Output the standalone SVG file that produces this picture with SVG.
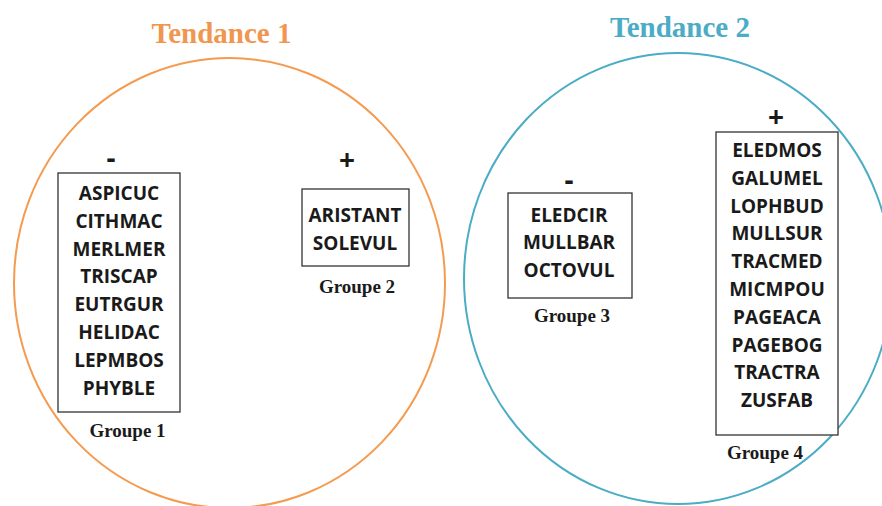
<svg xmlns="http://www.w3.org/2000/svg" width="882" height="506" viewBox="0 0 882 506">
<style>
.title{font-family:"Liberation Serif","Times New Roman",serif;font-weight:bold;font-size:29px;text-anchor:middle}
.grp{font-family:"Liberation Serif","Times New Roman",serif;font-weight:bold;font-size:19px;text-anchor:middle;fill:#1a1a1a}
.item{font-family:"Open Sans","Liberation Sans",sans-serif;font-weight:bold;font-size:19px;text-anchor:middle;fill:#1a1a1a}
.sign{font-family:"Open Sans","Liberation Sans",sans-serif;font-weight:bold;font-size:28px;text-anchor:middle;fill:#1a1a1a}
.box{fill:#fff;stroke:#333;stroke-width:1.3}
</style>
<rect x="0" y="0" width="882" height="506" fill="#fff"/>
<g id="tendance1">
<ellipse cx="229.5" cy="283" rx="215.5" ry="225" fill="none" stroke="#F49B50" stroke-width="2"/>
<text class="title" x="221.5" y="43" fill="#F0964F">Tendance 1</text>
</g>
<g id="tendance2">
<ellipse cx="678" cy="278.5" rx="214" ry="225.5" fill="none" stroke="#4BACC6" stroke-width="2"/>
<text class="title" x="680" y="37" fill="#4BACC6">Tendance 2</text>
</g>
<g id="groupe1">
<text class="sign" x="111" y="168">-</text>
<rect class="box" x="58" y="173" width="122" height="239"/>
<text class="item" x="119" y="200">ASPICUC</text>
<text class="item" x="119" y="228">CITHMAC</text>
<text class="item" x="119" y="256">MERLMER</text>
<text class="item" x="119" y="283">TRISCAP</text>
<text class="item" x="119" y="311">EUTRGUR</text>
<text class="item" x="119" y="339">HELIDAC</text>
<text class="item" x="119" y="367">LEPMBOS</text>
<text class="item" x="119" y="395">PHYBLE</text>
<text class="grp" x="127.5" y="437">Groupe 1</text>
</g>
<g id="groupe2">
<text class="sign" x="347" y="169.5">+</text>
<rect class="box" x="302" y="189" width="107" height="77"/>
<text class="item" x="355" y="222">ARISTANT</text>
<text class="item" x="355" y="250">SOLEVUL</text>
<text class="grp" x="357" y="293">Groupe 2</text>
</g>
<g id="groupe3">
<text class="sign" x="569" y="190">-</text>
<rect class="box" x="508" y="193" width="124" height="105"/>
<text class="item" x="569" y="222">ELEDCIR</text>
<text class="item" x="569" y="249">MULLBAR</text>
<text class="item" x="569" y="277">OCTOVUL</text>
<text class="grp" x="572" y="322">Groupe 3</text>
</g>
<g id="groupe4">
<text class="sign" x="776" y="127">+</text>
<rect class="box" x="716" y="132" width="122" height="303"/>
<text class="item" x="777" y="157">ELEDMOS</text>
<text class="item" x="777" y="185">GALUMEL</text>
<text class="item" x="777" y="213">LOPHBUD</text>
<text class="item" x="777" y="240">MULLSUR</text>
<text class="item" x="777" y="268">TRACMED</text>
<text class="item" x="777" y="296">MICMPOU</text>
<text class="item" x="777" y="324">PAGEACA</text>
<text class="item" x="777" y="352">PAGEBOG</text>
<text class="item" x="777" y="379">TRACTRA</text>
<text class="item" x="777" y="407">ZUSFAB</text>
<text class="grp" x="765" y="459">Groupe 4</text>
</g>
</svg>
